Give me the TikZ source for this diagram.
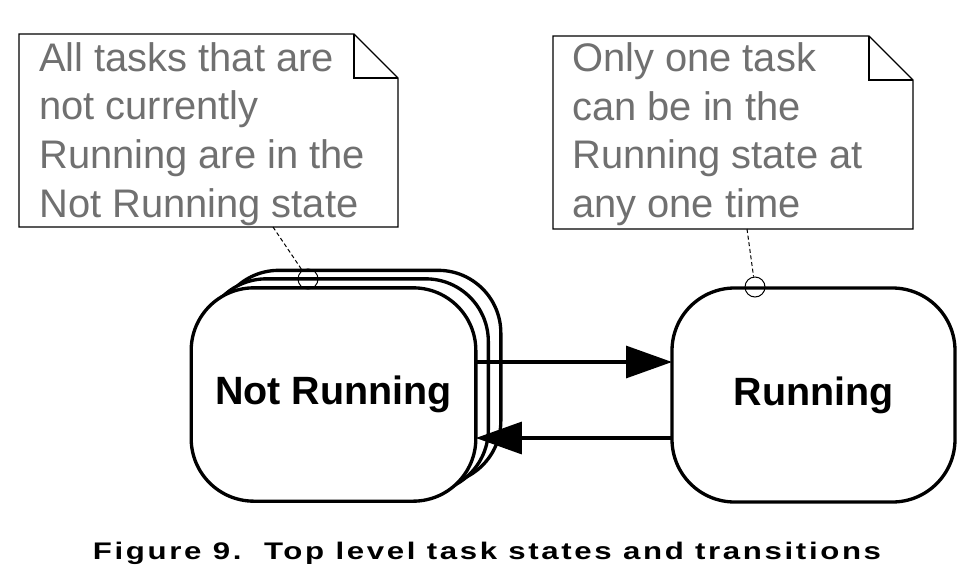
\documentclass[tikz,border=0pt]{standalone}
\usepackage{fontspec}
\setmainfont{Liberation Sans}
\newfontfamily\capfont{Liberation Sans}[FakeStretch=1.3,LetterSpace=11]
\usetikzlibrary{arrows.meta,calc}
\definecolor{notegray}{HTML}{707070}
\tikzset{
  statebox/.style={draw, line width=2.5pt, rounded corners=47pt, fill=white,
    minimum width=213.5pt, minimum height=160pt, inner sep=0pt, outer sep=0pt,
    font=\bfseries\fontsize{29.6pt}{35pt}\selectfont},
  flow/.style={line width=2.4pt, -{Triangle[length=34.5pt,width=24pt]}},
  notearea/.style={inner sep=0pt, outer sep=0pt, minimum height=144.75pt},
  noteline/.style={draw, line width=1pt, fill=white},
  notetext/.style={inner sep=0pt, anchor=base west, text=notegray,
    font=\fontsize{29.9pt}{36.5pt}\selectfont},
  pin/.style={circle, draw, line width=0.75pt, minimum size=15pt, inner sep=0pt},
  link/.style={line width=0.75pt, dash pattern=on 3pt off 2pt},
}
\begin{document}
\begin{tikzpicture}[x=0.75pt,y=-0.75pt]
\useasboundingbox[fill=white] (0,0) rectangle (966,586);

% notes
\node[notearea, minimum width=284.25pt] (n1) at (208.5,130.5) {};
\node[notearea, minimum width=270pt] (n2) at (733,132.5) {};
\foreach \n in {n1,n2}{
  \draw[noteline] (\n.north west) -- ($(\n.north east)+(-44,0)$) -- ($(\n.north east)+(0,44)$)
    -- (\n.south east) -- (\n.south west) -- cycle;
  \draw[line width=1pt] ($(\n.north east)+(-44,0)$) -- ($(\n.north east)+(-44,44)$) -- ($(\n.north east)+(0,44)$);
}
\node[notetext] (t1) at (39,71) {\parbox[t]{300pt}{\raggedright All tasks that are\\not currently\\Running are in the\\Not Running state}};
\node[notetext] (t2) at (572,71.5) {\parbox[t]{260pt}{\raggedright Only one task\\can be in the\\Running state at\\any one time}};

% states
\node[statebox] (nr3) at (358.5,377) {};
\node[statebox] (nr2) at (346,385.5) {};
\node[statebox] (nr) at (333.5,394.5) {Not Running};
\node[statebox, minimum width=212.25pt, minimum height=160.5pt] (run) at (813.5,395) {Running};

% transitions
\coordinate (y1) at (0,362);
\coordinate (y2) at (0,438);
\draw[flow] (nr.east |- y1) -- (run.west |- y1);
\draw[flow] (run.west |- y2) -- (nr.east |- y2);

% note anchors
\node[pin] (c1) at (308,279) {};
\node[pin] (c2) at (755,287) {};
\coordinate (d1) at ($(n1.south)+(64.5,0)$);
\coordinate (d2) at ($(n2.south)+(14,0)$);
\draw[link] (d1) -- (c1);
\draw[link] (d2) -- (c2);

% caption
\node[anchor=base, inner sep=0pt, font=\capfont\bfseries\fontsize{18pt}{21pt}\selectfont] (cap) at (487,559.3)
  {Figure 9.\ \ Top level task states and transitions};
\end{tikzpicture}
\end{document}
